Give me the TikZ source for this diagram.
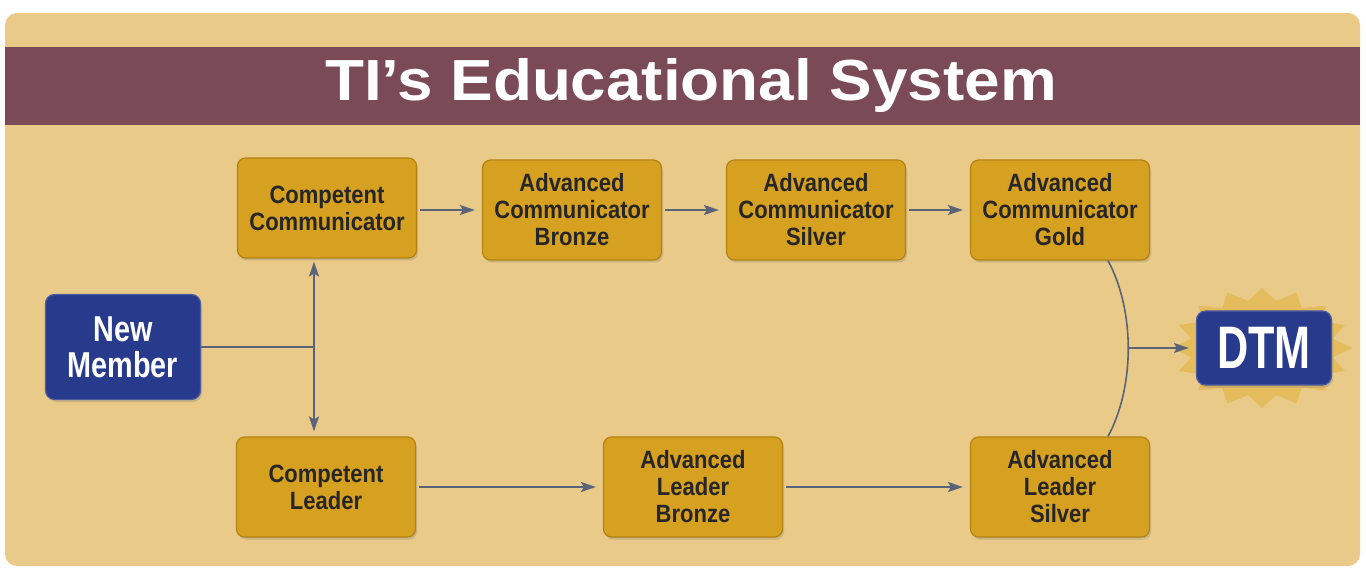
\documentclass[tikz,border=0pt]{standalone}
\usepackage{fontspec}
\setmainfont{Liberation Sans}
\newfontfamily\titlefont{Liberation Sans}[FakeStretch=1.1]
\newfontfamily\stagefont{Liberation Sans}[FakeStretch=0.88]
\newfontfamily\memberfont{Liberation Sans}[FakeStretch=0.8]
\newfontfamily\dtmfont{Liberation Sans}[FakeStretch=0.72]
\usepackage{tikz}
\usetikzlibrary{calc,positioning,shapes.geometric,shadows,arrows.meta}
\usepackage{xcolor}

\definecolor{bgtan}{RGB}{233,202,136}
\definecolor{bandmaroon}{RGB}{123,74,87}
\definecolor{stagegold}{RGB}{214,160,32}
\definecolor{stageedge}{RGB}{180,132,18}
\definecolor{memberblue}{RGB}{40,58,140}
\definecolor{memberedge}{RGB}{78,92,160}
\definecolor{linegray}{RGB}{90,100,120}
\definecolor{burstgold}{RGB}{228,184,78}

\begin{document}
\begin{tikzpicture}[x=1pt, y=-1pt]
      \tikzset{
	  stage/.style={rectangle,rounded corners=8pt,draw=stageedge, fill=stagegold, line width=1.2pt, minimum width=179pt, minimum height=100pt, align=center, text=black!85, font=\stagefont\bfseries\fontsize{25}{27}\selectfont, drop shadow={opacity=0.3, shadow xshift=1.5pt, shadow yshift=-2.5pt}},
	  member/.style={rectangle,rounded corners=9pt,draw=memberedge, fill=memberblue, line width=1.2pt, minimum width=155pt, minimum height=105pt, align=center, text=white, font=\memberfont\bfseries\fontsize{36}{36}\selectfont, drop shadow={opacity=0.3, shadow xshift=1.5pt, shadow yshift=-2.5pt}},
	  dtmbox/.style={minimum width=135pt, minimum height=74pt, font=\dtmfont\bfseries\fontsize{60}{60}\selectfont},
	  burst/.style={star, star points=16, star point ratio=1.25, minimum size=120pt, inner sep=0pt, fill=burstgold, fill opacity=0.75, xscale=1.5},
	  titletext/.style={text=white, font=\titlefont\bfseries\fontsize{58}{58}\selectfont},
	  link/.style={draw=linegray, line width=1.6pt},
	  flow/.style={link, -{Stealth[length=15pt, width=10pt, inset=3pt]}, shorten >=7pt, shorten <=3pt}
      }
      \useasboundingbox (0,0) rectangle (1366,569);
      % panel and title band
      \fill[bgtan, rounded corners=12pt] (5,13) rectangle (1360,566);
      \fill[bandmaroon] (5,47) rectangle (1360,125);
      \node at (691,86) [titletext] (title) {TI’s Educational System};

      % communicator track
      \node at (327,208) [stage] (cc) {Competent\\Communicator};
      \node at (572,210) [stage] (acb) {Advanced\\Communicator\\Bronze};
      \node at (816,210) [stage] (acs) {Advanced\\Communicator\\Silver};
      \node at (1060,210) [stage] (acg) {Advanced\\Communicator\\Gold};

      % leader track
      \node at (326,487) [stage] (cl) {Competent\\Leader};
      \node at (693,487) [stage] (alb) {Advanced\\Leader\\Bronze};
      \node at (1060,487) [stage] (als) {Advanced\\Leader\\Silver};

      \node at (123,347) [member] (nm) {New\\Member};
      \node at (1262,348) [burst] (star) {};
      \node at (1264,348) [member, dtmbox] (dtm) {DTM};

      % connectors
      \coordinate (split) at (314,347);
      \draw[link] (nm.east) -- (split);
      \draw[flow, shorten <=0pt, shorten >=3pt] (split) -- (split |- cc.south);
      \draw[flow, shorten <=0pt, shorten >=5pt] (split) -- (split |- cl.north);
      \draw[flow] (acb.west -| cc.east) -- (acb.west);
      \draw[flow] (acb.east) -- (acs.west);
      \draw[flow] (acs.east) -- (acg.west);
      \draw[flow] (cl.east) -- (alb.west);
      \draw[flow] (alb.east) -- (als.west);

      \coordinate (goldfoot) at ($(acg.south)+(48,0)$);
      \coordinate (silverhead) at ($(als.north)+(48,0)$);
      \draw[link] (goldfoot) .. controls +(27,50) and +(27,-50) .. (silverhead);
      \coordinate (merge) at (1128,348);
      \draw[flow, shorten <=0pt] (merge) -- (dtm.west);
\end{tikzpicture}
\end{document}
